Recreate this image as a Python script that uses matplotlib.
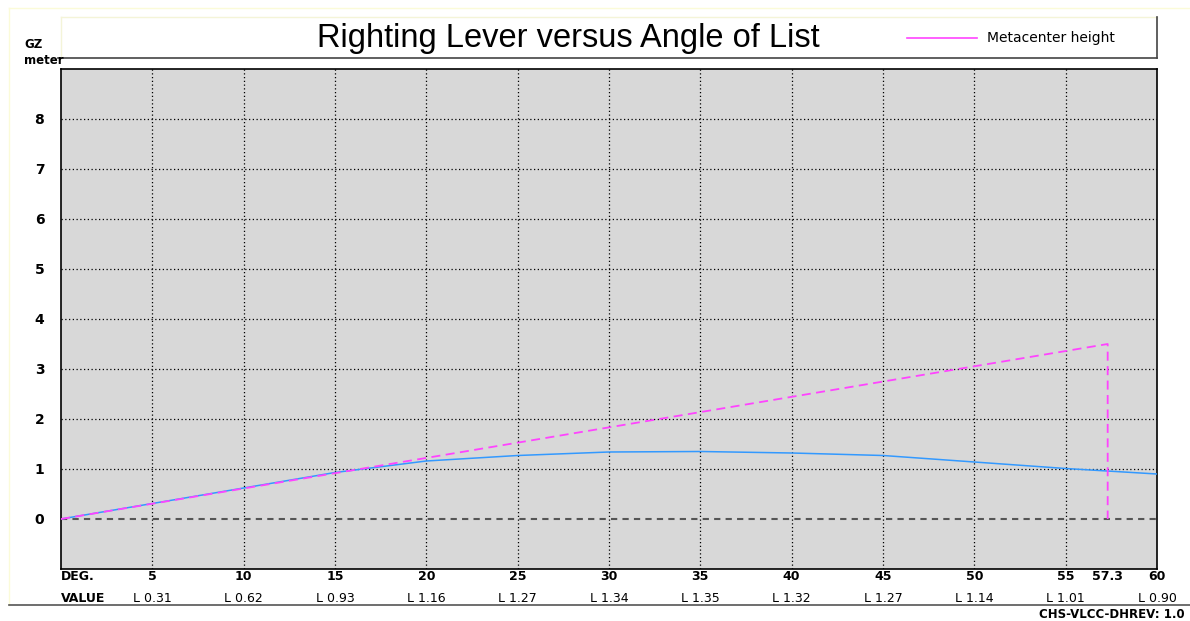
import matplotlib.pyplot as plt
from matplotlib.lines import Line2D
from matplotlib.transforms import blended_transform_factory

# data
deg_ticks = [5, 10, 15, 20, 25, 30, 35, 40, 45, 50, 55, 60]
gz_angles = [0, 5, 10, 15, 20, 25, 30, 35, 40, 45, 50, 55, 60]
gz_values = [0, 0.31, 0.62, 0.93, 1.16, 1.27, 1.34, 1.35, 1.32, 1.27, 1.14, 1.01, 0.90]
value_labels = ['L0.31', 'L0.62', 'L0.93', 'L1.16', 'L1.27', 'L1.34',
                'L1.35', 'L1.32', 'L1.27', 'L1.14', 'L1.01', 'L0.90']
gm_angles = [0, 57.3, 57.3]
gm_values = [0, 3.5, 0]
gz_ticks = [0, 1, 2, 3, 4, 5, 6, 7, 8]

W, H = 1190, 621
fig = plt.figure(figsize=(W / 100, H / 100), dpi=100)
fig.patch.set_facecolor('white')

def fx(px):
    return px / W

def fy(py):
    return 1 - py / H

# main axes
ax = fig.add_axes([fx(61), fy(569), fx(1157) - fx(61), fy(69) - fy(569)])
ax.set_facecolor('#d8d8d8')
ax.set_xlim(0, 60)
ax.set_ylim(-1, 9)

# grid
for d in deg_ticks[:-1]:
    ax.axvline(d, color='black', lw=0.9, linestyle=(0, (1, 2)), zorder=1)
for g in gz_ticks[1:]:
    ax.axhline(g, color='black', lw=0.9, linestyle=(0, (1, 2)), zorder=1)
ax.axhline(0, color='#555555', lw=1.5, linestyle=(0, (3, 2.5)), zorder=1)

# curves
ax.plot(gz_angles, gz_values, color='#3399ff', lw=1.1, zorder=3)
ax.plot(gm_angles, gm_values, color='#ff44ff', lw=1.3, linestyle=(0, (5, 3)), zorder=4)

ax.set_xticks([])
ax.set_yticks(gz_ticks)
ax.set_yticklabels([str(t) for t in gz_ticks], fontweight='bold', fontsize=10)
ax.tick_params(axis='y', length=0, pad=12)
for s in ax.spines.values():
    s.set_color('black')
    s.set_linewidth(1.2)

# bottom labels
trans = blended_transform_factory(ax.transData, fig.transFigure)
ax.text(0, fy(577), 'DEG.', transform=trans, ha='left', va='center',
        fontweight='bold', fontsize=9)
ax.text(0, fy(598), 'VALUE', transform=trans, ha='left', va='center',
        fontweight='bold', fontsize=9)
for d, lab in zip(deg_ticks, value_labels):
    ax.text(d, fy(577), str(d), transform=trans, ha='center', va='center',
            fontweight='bold', fontsize=9)
    ax.text(d, fy(598), lab[0] + ' ' + lab[1:], transform=trans, ha='center',
            va='center', fontsize=9)
ax.text(57.3, fy(577), '57.3', transform=trans, ha='center', va='center',
        fontweight='bold', fontsize=9)

# title box
fig.add_artist(Line2D([fx(9), fx(1190)], [fy(8), fy(8)], color='#fbfbd8', lw=1))
fig.add_artist(Line2D([fx(9), fx(9)], [fy(8), fy(605)], color='#fbfbd8', lw=1))
fig.add_artist(Line2D([fx(61), fx(1157)], [fy(17), fy(17)], color='#f4f4d8', lw=1))
fig.add_artist(Line2D([fx(61), fx(61)], [fy(17), fy(58)], color='#f4f4d8', lw=1))
fig.add_artist(Line2D([fx(58), fx(1157)], [fy(58), fy(58)], color='#444444', lw=1.2))
fig.add_artist(Line2D([fx(1157), fx(1157)], [fy(17), fy(58)], color='#444444', lw=1.2))
fig.text(fx(568), fy(38), 'Righting Lever versus Angle of List', ha='center',
         va='center', fontsize=23.5, family='Liberation Sans')

# legend
fig.add_artist(Line2D([fx(907), fx(977)], [fy(38), fy(38)], color='#ff44ff', lw=1.2))
fig.text(fx(987), fy(38), 'Metacenter height', ha='left', va='center', fontsize=10)

# y-axis label
fig.text(fx(24), fy(44), 'GZ', ha='left', va='center', fontweight='bold', fontsize=8.5)
fig.text(fx(24), fy(60), 'meter', ha='left', va='center', fontweight='bold', fontsize=8.5)

# bottom rule and revision tag
fig.add_artist(Line2D([fx(9), fx(1190)], [fy(605), fy(605)], color='#555555', lw=1.2))
fig.text(fx(1185), fy(614), 'CHS-VLCC-DHREV: 1.0', ha='right', va='center',
         fontweight='bold', fontsize=8.5)

fig.savefig('out.png', dpi=100)
